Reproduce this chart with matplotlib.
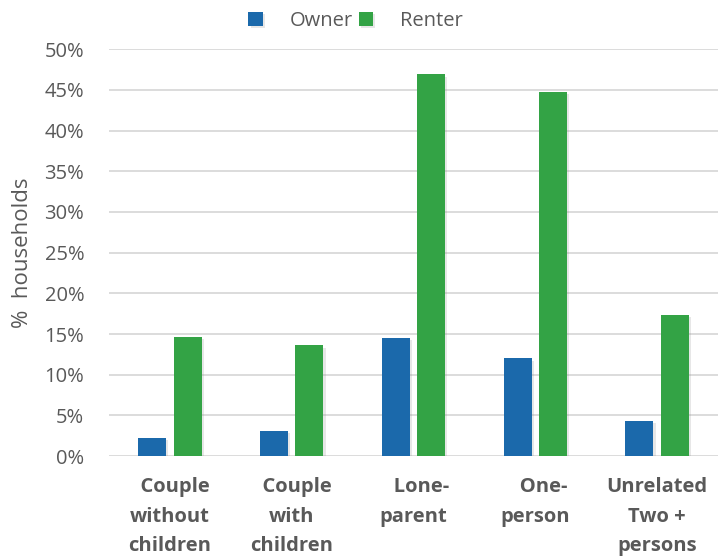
import matplotlib.pyplot as plt
import matplotlib.patheffects as pe
import numpy as np

categories = ["  Couple\nwithout\nchildren", "  Couple\nwith\nchildren", "   Lone-\nparent",
              "   One-\nperson", "Unrelated\nTwo +\npersons"]
owner = [2.2, 3.1, 14.5, 12.0, 4.3]
renter = [14.7, 13.6, 46.9, 44.8, 17.3]
yticks = [0, 5, 10, 15, 20, 25, 30, 35, 40, 45, 50]

plt.rcParams['font.family'] = ['Open Sans', 'DejaVu Sans']

fig = plt.figure(figsize=(7.18, 5.59), dpi=100)
ax = fig.add_axes([0.152, 0.184, 0.848, 0.728])

x = np.arange(len(categories))
w = 0.23
shadow = [pe.SimplePatchShadow(offset=(1.5, -1.5), alpha=0.2, shadow_rgbFace='#888888'), pe.Normal()]
b1 = ax.bar(x - 0.145, owner, w, color='#1b69ab', label='Owner', zorder=3)
b2 = ax.bar(x + 0.145, renter, w, color='#33a345', label='Renter', zorder=3)
for b in list(b1) + list(b2):
    b.set_path_effects(shadow)

ax.set_xlim(-0.5, 4.5)
ax.set_ylim(0, 50)
ax.set_yticks(yticks)
ax.set_yticklabels([f"{v}%" for v in yticks], fontsize=14.5, color='#595959')
ax.set_xticks(x)
ax.set_xticklabels(categories, fontsize=14.5, fontweight='bold', color='#595959',
                   linespacing=1.65)
ax.tick_params(axis='y', length=0, pad=18)
ax.tick_params(axis='x', length=0, pad=15)
ax.set_ylabel('%  households', fontsize=16, color='#595959', labelpad=8)
for s in ax.spines.values():
    s.set_visible(False)
ax.grid(axis='y', color='#d9d9d9', linewidth=1.3, zorder=0)
ax.set_axisbelow(True)

ax.legend(loc='lower center', bbox_to_anchor=(0.405, 1.0), ncol=2, frameon=False,
          fontsize=14.5, labelcolor='#595959', handlelength=0.7, handleheight=0.7,
          handletextpad=1.35, columnspacing=0.3)

fig.savefig('out.png', dpi=100)
